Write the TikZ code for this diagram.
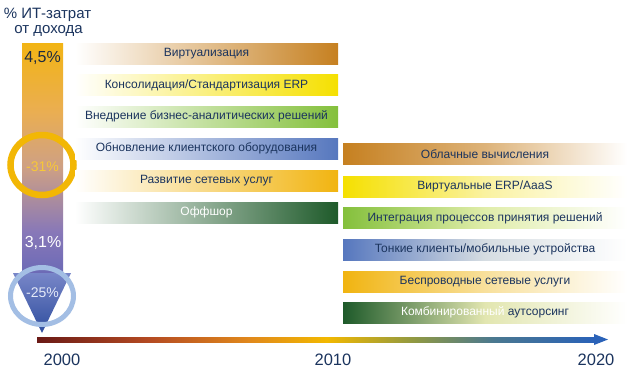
\documentclass[tikz,border=0pt]{standalone}
\usepackage{fontspec}
\setmainfont{Liberation Sans}
\definecolor{navy}{HTML}{1B345E}
\definecolor{cBrown}{HTML}{C68020}
\definecolor{cYel}{HTML}{F5E000}
\definecolor{cGreen}{HTML}{84C03C}
\definecolor{cBlue}{HTML}{5677BE}
\definecolor{cGold}{HTML}{F1B410}
\definecolor{cDGreen}{HTML}{1E5A2A}
\definecolor{mBrown}{HTML}{EAD2BC}
\definecolor{mYel}{HTML}{FAF2A0}
\definecolor{mGreen}{HTML}{E0EDAA}
\definecolor{mBlue}{HTML}{D6DDE2}
\definecolor{mGold}{HTML}{F8E09C}
\definecolor{cOlive}{HTML}{DDE2A4}
\definecolor{cPale}{HTML}{E2E6B0}
\definecolor{v1}{HTML}{6C6AB6}
\definecolor{v2}{HTML}{8878B8}
\definecolor{v3}{HTML}{CEA084}
\definecolor{v4}{HTML}{EAAE52}
\definecolor{v5}{HTML}{F2B414}
\definecolor{trTop}{HTML}{7886C8}
\definecolor{trBot}{HTML}{2F4E9E}
\definecolor{txDark}{HTML}{1E2A40}
\definecolor{txYel}{HTML}{F7C838}
\definecolor{txPale}{HTML}{E4EAF8}
\definecolor{ringY}{HTML}{F2B705}
\definecolor{ringB}{HTML}{A3BEE4}
\definecolor{tl1}{HTML}{6A1A16}
\definecolor{tl2}{HTML}{B44A22}
\definecolor{tl3}{HTML}{E0881C}
\definecolor{tl4}{HTML}{F2B800}
\definecolor{tl5}{HTML}{8E9844}
\definecolor{tl6}{HTML}{4A7890}
\definecolor{tl7}{HTML}{2A62B8}
\pgfdeclarehorizontalshading{tline}{100bp}{color(0bp)=(tl1); color(25bp)=(tl1); color(35bp)=(tl2); color(44bp)=(tl3); color(51bp)=(tl4); color(59bp)=(tl5); color(66bp)=(tl6); color(75bp)=(tl7); color(100bp)=(tl7)}
\pgfdeclareverticalshading{vbar}{100bp}{color(0bp)=(v1); color(25bp)=(v1); color(34bp)=(v2); color(48bp)=(v3); color(60bp)=(v4); color(75bp)=(v5); color(100bp)=(v5)}
\tikzset{
  lbar/.style={shade, left color=white, minimum width=263pt, minimum height=21pt, inner sep=0pt, text=navy, font=\fontsize{12}{14}\selectfont},
  rbar/.style={shade, right color=white, minimum width=284pt, minimum height=21pt, inner sep=0pt, text=navy, font=\fontsize{12}{14}\selectfont},
  year/.style={text=navy, font=\fontsize{16.5}{18}\selectfont, inner sep=0pt},
  pct/.style={font=\fontsize{16}{18}\selectfont, inner sep=0pt},
  dec/.style={font=\fontsize{14}{16}\selectfont, inner sep=0pt}
}
\begin{document}
\begin{tikzpicture}[x=1pt,y=-1pt]
\useasboundingbox[fill=white] (0,0) rectangle (640,373);
% title
\node[text=navy, font=\fontsize{15}{17}\selectfont, inner sep=0pt] (t1) at (47.5,15) {\% ИТ-затрат};
\node[text=navy, font=\fontsize{15}{17}\selectfont, inner sep=0pt] (t2) at (48.5,31) {от дохода};
% vertical bar
\shade[shading=vbar] (22,43) rectangle (63,273);
\shade[top color=trTop, bottom color=trBot] (13,273) -- (71,273) -- (42,333) -- cycle;
\draw[ringY, line width=6.5pt] (42,165) ellipse [x radius=31.5, y radius=30];
\draw[ringB, line width=5pt] (42,296) ellipse [x radius=31.5, y radius=28.5];
\node[pct, text=txDark] (p1) at (42.5,58) {4,5\%};
\node[dec, text=txYel] (p2) at (42.5,167) {-31\%};
\node[pct, text=white] (p3) at (43,243) {3,1\%};
\node[dec, text=txPale] (p4) at (42.5,293) {-25\%};
% left bars
\node[lbar, middle color=mBrown, right color=cBrown] (l1) at (206.5,53.5) {Виртуализация};
\node[lbar, middle color=mYel, right color=cYel] (l2) at (206.5,85) {Консолидация/Стандартизация ERP};
\node[lbar, middle color=mGreen, right color=cGreen] (l3) at (206.5,116.5) {Внедрение бизнес-аналитических решений};
\node[lbar, middle color=mBlue, right color=cBlue] (l4) at (206.5,148.5) {Обновление клиентского оборудования};
\node[lbar, middle color=mGold, right color=cGold] (l5) at (206.5,180.5) {Развитие сетевых услуг};
\node[lbar, middle color=cOlive, right color=cDGreen, text=white] (l6) at (206.5,212.5) {Оффшор};
% right bars
\node[rbar, left color=cBrown, middle color=cBrown!60!white] (r1) at (485,154) {Облачные вычисления};
\node[rbar, left color=cYel, middle color=mYel] (r2) at (485,186.5) {Виртуальные ERP/AaaS};
\node[rbar, left color=cGreen, middle color=mGreen] (r3) at (485,218) {Интеграция процессов принятия решений};
\node[rbar, left color=cBlue, middle color=mBlue] (r4) at (485,249.5) {Тонкие клиенты/мобильные устройства};
\node[rbar, left color=cGold, middle color=mGold] (r5) at (485,281.5) {Беспроводные сетевые услуги};
\node[rbar, left color=cDGreen, middle color=cPale] (r6) at (485,312.5) {{\color{white}Комбинированный} аутсорсинг};
% timeline
\coordinate (a0) at (37,339.5);
\coordinate (a1) at (594,339.5);
\coordinate (a2) at (608,339.5);
\shade[shading=tline] ([yshift=2.5pt]a0) rectangle ([yshift=-2.5pt]a1);
\fill[tl7] ([yshift=5.5pt]a1) -- (a2) -- ([yshift=-5.5pt]a1) -- cycle;
\node[year] (y0) at (62,360) {2000};
\node[year] (y1) at (333,360) {2010};
\node[year] (y2) at (596,360) {2020};
\end{tikzpicture}
\end{document}
